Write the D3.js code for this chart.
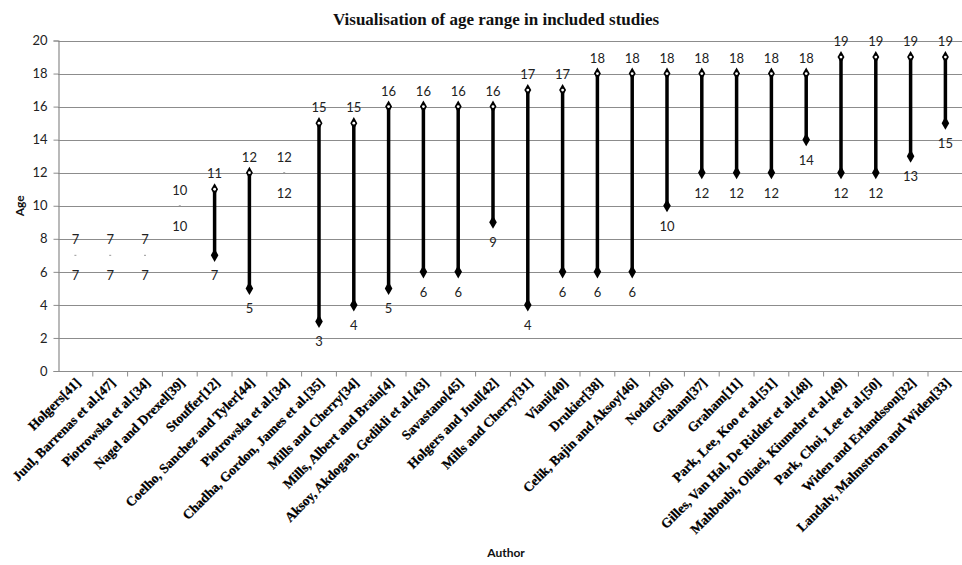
<!DOCTYPE html>
<html>
<head>
<meta charset="utf-8">
<script src="https://cdn.jsdelivr.net/npm/d3@7"></script>
<style>
  body { margin: 0; background: white; }
  svg { display: block; }
</style>
</head>
<body>
<svg id="chart" width="962" height="565"></svg>
<script>
// data
const authors = [
  "Holgers[41]", "Juul, Barrenas et al.[47]", "Piotrowska et al.[34]",
  "Nagel and Drexel[39]", "Stouffer[12]", "Coelho, Sanchez and Tyler[44]",
  "Piotrowska et al.[34] ", "Chadha, Gordon, James et al.[35]", "Mills and Cherry[34]",
  "Mills, Albert and Brain[4]", "Aksoy, Akdogan, Gedikli et al.[43]", "Savastano[45]",
  "Holgers and Juul[42]", "Mills and Cherry[31]", "Viani[40]", "Drukier[38]",
  "Celik, Bajin and Aksoy[46]", "Nodar[36]", "Graham[37]", "Graham[11]",
  "Park, Lee, Koo et al.[51]", "Gilles, Van Hal, De Ridder et al.[48]",
  "Mahboubi, Oliaei, Kiumehr et al.[49]", "Park, Choi, Lee et al.[50]",
  "Widen and Erlandsson[32]", "Landalv, Malmstrom and Widen[33]"
];
const minAge = [7, 7, 7, 10, 7, 5, 12, 3, 4, 5, 6, 6, 9, 4, 6, 6, 6, 10, 12, 12, 12, 14, 12, 12, 13, 15];
const maxAge = [7, 7, 7, 10, 11, 12, 12, 15, 15, 16, 16, 16, 16, 17, 17, 18, 18, 18, 18, 18, 18, 18, 19, 19, 19, 19];
const yTicks = [0, 2, 4, 6, 8, 10, 12, 14, 16, 18, 20];

const rows = authors.map((a, i) => ({ author: a, lo: minAge[i], hi: maxAge[i] }));

const margin = { left: 58, top: 40.5 };
const width = 962;
const svg = d3.select("#chart");

const x = d3.scaleBand()
  .domain(authors)
  .range([margin.left, margin.left + 26 * 34.8]);

const y = d3.scaleLinear()
  .domain([0, 20])
  .range([371, margin.top]);

const sansFont = "Lato, 'Open Sans', sans-serif";
const serifFont = "'Liberation Serif', 'Times New Roman', serif";

// gridlines
svg.append("g")
  .selectAll("line")
  .data(yTicks.filter(d => d > 0))
  .join("line")
  .attr("x1", margin.left)
  .attr("x2", width)
  .attr("y1", d => Math.round(y(d)) + 0.5)
  .attr("y2", d => Math.round(y(d)) + 0.5)
  .attr("stroke", "#8c8c8c")
  .attr("stroke-width", 1.2);

// y axis
const yAxis = d3.axisLeft(y).tickValues(yTicks).tickSize(5).tickPadding(6);
const gy = svg.append("g")
  .attr("transform", `translate(${margin.left + 0.5},0)`)
  .call(yAxis);
gy.select(".domain").attr("stroke", "#8c8c8c").attr("stroke-width", 1.2);
gy.selectAll(".tick line").attr("stroke", "#8c8c8c");
gy.selectAll(".tick text")
  .attr("font-family", sansFont)
  .attr("font-size", 13)
  .attr("fill", "#222");

// x axis: ticks at band boundaries
const gx = svg.append("g")
  .attr("transform", `translate(0,${Math.round(y(0)) + 0.5})`);
gx.append("line")
  .attr("x1", margin.left).attr("x2", width)
  .attr("stroke", "#8c8c8c").attr("stroke-width", 1.2);
gx.selectAll("line.tk")
  .data(authors)
  .join("line")
  .attr("class", "tk")
  .attr("x1", d => x(d) + x.bandwidth())
  .attr("x2", d => x(d) + x.bandwidth())
  .attr("y1", 0).attr("y2", 5)
  .attr("stroke", "#8c8c8c");

gx.selectAll("text.lbl")
  .data(authors)
  .join("text")
  .attr("class", "lbl")
  .attr("transform", d => `translate(${x(d) + x.bandwidth() / 2 + 6},${12}) rotate(-45)`)
  .attr("text-anchor", "end")
  .attr("font-family", serifFont)
  .attr("font-weight", "bold")
  .attr("font-size", 13.5)
  .attr("fill", "#000")
  .attr("stroke", "#000")
  .attr("stroke-width", 0.25)
  .text(d => d.trim());

const cx = d => x(d.author) + x.bandwidth() / 2;

// range bars
svg.append("g")
  .selectAll("line")
  .data(rows.filter(d => d.hi > d.lo))
  .join("line")
  .attr("x1", cx).attr("x2", cx)
  .attr("y1", d => y(d.lo)).attr("y2", d => y(d.hi))
  .attr("stroke", "#000")
  .attr("stroke-width", 3.5);

// single age studies drawn as a faint dash
svg.append("g")
  .selectAll("line")
  .data(rows.filter(d => d.hi === d.lo))
  .join("line")
  .attr("x1", d => cx(d) - 1).attr("x2", d => cx(d) + 1)
  .attr("y1", d => y(d.lo)).attr("y2", d => y(d.lo))
  .attr("stroke", "#999")
  .attr("stroke-width", 1);

const diamond = d3.symbol().type(d3.symbolDiamond).size(50);

// low markers: filled diamonds
svg.append("g")
  .selectAll("path")
  .data(rows.filter(d => d.hi > d.lo))
  .join("path")
  .attr("d", diamond)
  .attr("transform", d => `translate(${cx(d)},${y(d.lo)})`)
  .attr("fill", "#000");

// high markers: black diamond with a small white centre
const hiMarks = svg.append("g")
  .selectAll("g")
  .data(rows.filter(d => d.hi > d.lo))
  .join("g")
  .attr("transform", d => `translate(${cx(d)},${y(d.hi)})`);
hiMarks.append("path")
  .attr("d", d3.symbol().type(d3.symbolDiamond).size(42))
  .attr("fill", "#000");
hiMarks.append("circle")
  .attr("r", 1.4)
  .attr("fill", "#fff");

// value labels
const lblGroup = svg.append("g")
  .attr("font-family", sansFont)
  .attr("font-size", 13)
  .attr("fill", "#222")
  .attr("text-anchor", "middle");

lblGroup.selectAll("text.hi")
  .data(rows)
  .join("text")
  .attr("class", "hi")
  .attr("x", cx)
  .attr("y", d => y(d.hi) - 11)
  .text(d => d.hi);

lblGroup.selectAll("text.lo")
  .data(rows)
  .join("text")
  .attr("class", "lo")
  .attr("x", cx)
  .attr("y", d => y(d.lo) + 25)
  .text(d => d.lo);

// title
svg.append("text")
  .attr("x", 496)
  .attr("y", 25)
  .attr("text-anchor", "middle")
  .attr("font-family", serifFont)
  .attr("font-weight", "bold")
  .attr("font-size", 17)
  .attr("fill", "#111")
  .text("Visualisation of age range in included studies");

// axis titles
svg.append("text")
  .attr("transform", `translate(24,${y(10)}) rotate(-90)`)
  .attr("text-anchor", "middle")
  .attr("font-family", sansFont)
  .attr("font-weight", "bold")
  .attr("font-size", 12)
  .attr("fill", "#111")
  .text("Age");

svg.append("text")
  .attr("x", 506)
  .attr("y", 557)
  .attr("text-anchor", "middle")
  .attr("font-family", sansFont)
  .attr("font-weight", "bold")
  .attr("font-size", 12)
  .attr("fill", "#111")
  .text("Author");
</script>
</body>
</html>
